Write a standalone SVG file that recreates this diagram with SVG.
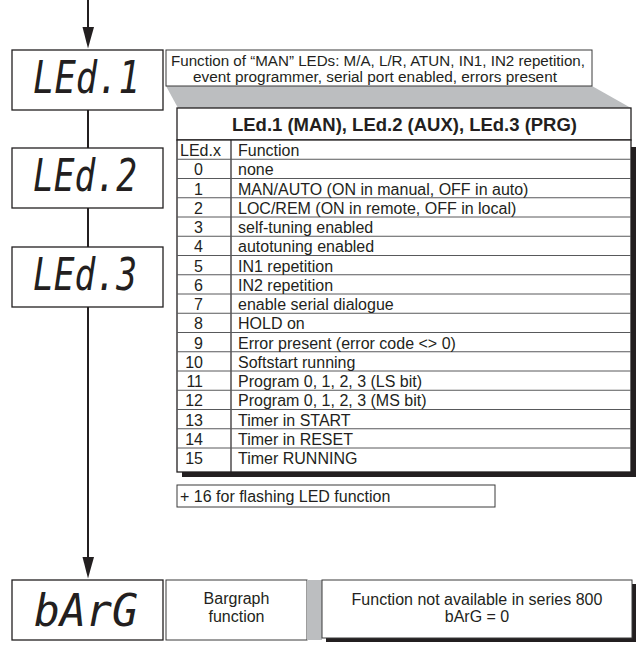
<svg xmlns="http://www.w3.org/2000/svg" width="643" height="645" viewBox="0 0 643 645">
<style>
  .box{fill:#fff;stroke:#231f20;stroke-width:1.3}
  .thin{fill:#fff;stroke:#3a3a3a;stroke-width:1}
  .seg{font-family:"DejaVu Sans Mono","Liberation Mono",monospace;font-style:oblique;font-size:44px;fill:#231f20}
  .t{font-family:"Liberation Sans",Arial,sans-serif;font-size:16px;fill:#231f20}
  .cl{font-family:"Liberation Sans",Arial,sans-serif;font-size:14px;fill:#231f20}
  .c{text-anchor:middle}
  .r{text-anchor:end}
  .title{font-family:"Liberation Sans",Arial,sans-serif;font-size:18.5px;font-weight:bold;fill:#231f20;text-anchor:middle}
  .conn{stroke:#231f20;stroke-width:2;fill:none}
  .row{stroke:#58595b;stroke-width:1}
  .shadow{fill:#231f20}
  .gray{fill:#bcbec0}
  .head{fill:#231f20}
</style>

<g id="connectors">
  <line class="conn" x1="88" y1="0" x2="88" y2="30"/>
  <path class="head" d="M82.5,27 L94,27 L88,48.5 Z"/>
  <line class="conn" x1="88" y1="110" x2="88" y2="148"/>
  <line class="conn" x1="88" y1="208" x2="88" y2="247"/>
  <line class="conn" x1="88" y1="307" x2="88" y2="560"/>
  <path class="head" d="M82.5,557 L94,557 L88,578.5 Z"/>
</g>

<g id="led1">
  <rect class="box" x="12" y="50" width="151" height="60"/>
  <text class="seg" x="33" y="93" textLength="107" lengthAdjust="spacingAndGlyphs">LEd.1</text>
</g>
<g id="led2">
  <rect class="box" x="12" y="148" width="151" height="60"/>
  <text class="seg" x="33" y="191" textLength="104" lengthAdjust="spacingAndGlyphs">LEd.2</text>
</g>
<g id="led3">
  <rect class="box" x="12" y="247" width="151" height="60"/>
  <text class="seg" x="33" y="290" textLength="104" lengthAdjust="spacingAndGlyphs">LEd.3</text>
</g>
<g id="barg">
  <rect class="box" x="12" y="580" width="151" height="60"/>
  <text class="seg" x="34" y="626" textLength="104" lengthAdjust="spacingAndGlyphs">bArG</text>
</g>

<g id="callout">
  <polygon class="gray" points="166,86 592,86 631,108 178,108"/>
  <rect class="thin" x="166" y="50" width="426" height="36"/>
  <text class="cl" x="171" y="65.5" textLength="414" lengthAdjust="spacingAndGlyphs">Function of “MAN” LEDs: M/A, L/R, ATUN, IN1, IN2 repetition,</text>
  <text class="cl" x="193" y="81.5" textLength="364" lengthAdjust="spacingAndGlyphs">event programmer, serial port enabled, errors present</text>
</g>

<g id="table">
  <rect class="shadow" x="182" y="147" width="454" height="330"/>
  <rect class="box" x="177" y="108" width="454" height="32"/>
  <text class="title" x="404.5" y="131" textLength="345" lengthAdjust="spacingAndGlyphs">LEd.1 (MAN), LEd.2 (AUX), LEd.3 (PRG)</text>
  <rect class="box" x="177" y="140" width="454" height="332"/>
  <line x1="231" y1="140" x2="231" y2="472" stroke="#231f20" stroke-width="1.2"/>
  <g class="row">
    <line x1="177" y1="159.25" x2="631" y2="159.25"/>
    <line x1="177" y1="178.5" x2="631" y2="178.5"/>
    <line x1="177" y1="197.75" x2="631" y2="197.75"/>
    <line x1="177" y1="217" x2="631" y2="217"/>
    <line x1="177" y1="236.25" x2="631" y2="236.25"/>
    <line x1="177" y1="255.5" x2="631" y2="255.5"/>
    <line x1="177" y1="274.75" x2="631" y2="274.75"/>
    <line x1="177" y1="294" x2="631" y2="294"/>
    <line x1="177" y1="313.25" x2="631" y2="313.25"/>
    <line x1="177" y1="332.5" x2="631" y2="332.5"/>
    <line x1="177" y1="351.75" x2="631" y2="351.75"/>
    <line x1="177" y1="371" x2="631" y2="371"/>
    <line x1="177" y1="390.25" x2="631" y2="390.25"/>
    <line x1="177" y1="409.5" x2="631" y2="409.5"/>
    <line x1="177" y1="428.75" x2="631" y2="428.75"/>
    <line x1="177" y1="448" x2="631" y2="448"/>
  </g>
  <text class="t" x="180" y="156">LEd.x</text>
  <text class="t" x="238" y="156">Function</text>
  <g class="t r">
    <text x="203" y="175.25">0</text>
    <text x="203" y="194.5">1</text>
    <text x="203" y="213.75">2</text>
    <text x="203" y="233">3</text>
    <text x="203" y="252.25">4</text>
    <text x="203" y="271.5">5</text>
    <text x="203" y="290.75">6</text>
    <text x="203" y="310">7</text>
    <text x="203" y="329.25">8</text>
    <text x="203" y="348.5">9</text>
    <text x="203" y="367.75">10</text>
    <text x="203" y="387">11</text>
    <text x="203" y="406.25">12</text>
    <text x="203" y="425.5">13</text>
    <text x="203" y="444.75">14</text>
    <text x="203" y="464">15</text>
  </g>
  <g class="t">
    <text x="238" y="175.25">none</text>
    <text x="238" y="194.5">MAN/AUTO (ON in manual, OFF in auto)</text>
    <text x="238" y="213.75">LOC/REM (ON in remote, OFF in local)</text>
    <text x="238" y="233">self-tuning enabled</text>
    <text x="238" y="252.25">autotuning enabled</text>
    <text x="238" y="271.5">IN1 repetition</text>
    <text x="238" y="290.75">IN2 repetition</text>
    <text x="238" y="310">enable serial dialogue</text>
    <text x="238" y="329.25">HOLD on</text>
    <text x="238" y="348.5">Error present (error code &lt;&gt; 0)</text>
    <text x="238" y="367.75">Softstart running</text>
    <text x="238" y="387">Program 0, 1, 2, 3 (LS bit)</text>
    <text x="238" y="406.25">Program 0, 1, 2, 3 (MS bit)</text>
    <text x="238" y="425.5">Timer in START</text>
    <text x="238" y="444.75">Timer in RESET</text>
    <text x="238" y="464">Timer RUNNING</text>
  </g>
</g>

<g id="flash-note">
  <rect class="thin" x="177" y="485" width="318" height="22"/>
  <text class="t" x="180" y="501.5">+ 16 for flashing LED function</text>
</g>

<g id="bargraph-label">
  <rect class="thin" x="166" y="580" width="141" height="60"/>
  <text class="t c" x="236.5" y="604">Bargraph</text>
  <text class="t c" x="236.5" y="622">function</text>
</g>

<g id="bargraph-note">
  <rect class="gray" x="307" y="580" width="15" height="60"/>
  <rect class="shadow" x="326" y="584" width="310" height="58"/>
  <rect class="thin" x="322" y="580" width="310" height="58"/>
  <text class="t c" x="477" y="605">Function not available in series 800</text>
  <text class="t c" x="477" y="622">bArG = 0</text>
</g>
</svg>
